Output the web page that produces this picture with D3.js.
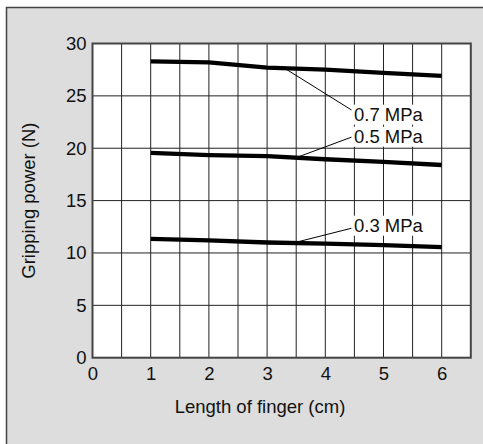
<!DOCTYPE html>
<html>
<head>
<meta charset="utf-8">
<script src="https://cdn.jsdelivr.net/npm/d3@7"></script>
<style>
  html, body { margin: 0; padding: 0; background: #fff; }
  svg { display: block; font-family: "Liberation Sans", Arial, sans-serif; }
</style>
</head>
<body>
<div id="chart"></div>
<script>
// finger length (cm) on x, gripping power (N) on y
let lengths = [1, 2, 3, 4, 5, 6];
let power07 = [28.3, 28.2, 27.7, 27.5, 27.2, 26.9];
let power05 = [19.55, 19.35, 19.25, 18.95, 18.7, 18.4];
let power03 = [11.35, 11.2, 11.0, 10.9, 10.75, 10.55];

let seriesNames = ["0.7 MPa", "0.5 MPa", "0.3 MPa"];
// leader lines: point on curve (x) -> label point (x, y), label baseline (y)
let leaderFromX = [3.3, 3.5, 3.45];
let leaderToX = [4.45, 4.45, 4.45];
let leaderToY = [23.65, 21.06, 12.36];
let labelBaseY = [22.63, 20.53, 12.03];

let xTicks = [0, 1, 2, 3, 4, 5, 6];
let yTicks = [0, 5, 10, 15, 20, 25, 30];

let width = 483, height = 444;
let margin = { top: 43.5, right: 12.2, bottom: 86.3, left: 92.5 };
let fontSize = "18.5px";

let x = d3.scaleLinear().domain([0, 6.5]).range([margin.left, width - margin.right]);
let y = d3.scaleLinear().domain([0, 30]).range([height - margin.bottom, margin.top]);

const svg = d3.select("#chart").append("svg")
  .attr("width", width)
  .attr("height", height);

// grey panel
svg.append("rect")
  .attr("x", 6.5).attr("y", 7.5)
  .attr("width", width + 10).attr("height", height + 10)
  .attr("fill", "#dcdddc")
  .attr("stroke", "#444").attr("stroke-width", 1.5);

// plot area
svg.append("rect")
  .attr("x", x(0)).attr("y", y(30))
  .attr("width", x(6.5) - x(0)).attr("height", y(0) - y(30))
  .attr("fill", "#fff");

// grid
let vLines = d3.range(0.5, 6.5, 0.5);
svg.append("g").selectAll("line").data(vLines).join("line")
  .attr("x1", d => x(d)).attr("x2", d => x(d))
  .attr("y1", y(30)).attr("y2", y(0))
  .attr("stroke", "#222").attr("stroke-width", 1);

svg.append("g").selectAll("line").data(yTicks.slice(1, -1)).join("line")
  .attr("x1", x(0)).attr("x2", x(6.5))
  .attr("y1", d => y(d)).attr("y2", d => y(d))
  .attr("stroke", "#222").attr("stroke-width", 1);

svg.append("rect")
  .attr("x", x(0)).attr("y", y(30))
  .attr("width", x(6.5) - x(0)).attr("height", y(0) - y(30))
  .attr("fill", "none")
  .attr("stroke", "#444").attr("stroke-width", 2);

// axes (labels only)
let axisX = svg.append("g")
  .attr("transform", `translate(0 ${y(0)})`)
  .call(d3.axisBottom(x).tickValues(xTicks).tickFormat(d3.format("d")).tickSize(0).tickPadding(9));
let axisY = svg.append("g")
  .attr("transform", `translate(${x(0)} 0)`)
  .call(d3.axisLeft(y).tickValues(yTicks).tickFormat(d3.format("d")).tickSize(0).tickPadding(6));
[axisX, axisY].forEach(a => {
  a.select(".domain").remove();
  a.selectAll("text")
    .attr("fill", "#111")
    .style("font-size", fontSize)
    .style("font-family", "'Liberation Sans', Arial, sans-serif");
});

// curves
let allSeries = [power07, power05, power03];
let line = d3.line().x((d, i) => x(lengths[i])).y(d => y(d));
svg.append("g").selectAll("path").data(allSeries).join("path")
  .attr("d", d => line(d))
  .attr("fill", "none")
  .attr("stroke", "#000")
  .attr("stroke-width", 4.3);

// leaders + labels (white box behind text hides the grid)
let valueAt = (s, xv) => d3.scaleLinear().domain(lengths).range(s)(xv);
let ann = svg.append("g");
allSeries.forEach((s, i) => {
  let box = ann.append("rect").attr("fill", "#fff");
  let t = ann.append("text")
    .attr("x", x(leaderToX[i]) + 2.5)
    .attr("y", y(labelBaseY[i]))
    .attr("fill", "#111")
    .style("font-size", fontSize)
    .text(seriesNames[i]);
  let bb = t.node().getBBox();
  box.attr("x", bb.x - 1).attr("y", bb.y + 1)
    .attr("width", bb.width + 2).attr("height", bb.height - 1);
  ann.append("line")
    .attr("x1", x(leaderFromX[i])).attr("y1", y(valueAt(s, leaderFromX[i])))
    .attr("x2", x(leaderToX[i])).attr("y2", y(leaderToY[i]))
    .attr("stroke", "#000").attr("stroke-width", 1);
});

// axis titles
svg.append("text")
  .attr("x", 260).attr("y", 413)
  .attr("text-anchor", "middle")
  .attr("fill", "#111")
  .style("font-size", fontSize)
  .text("Length of finger (cm)");

svg.append("text")
  .attr("transform", `translate(28 ${(y(0) + y(30)) / 2}) rotate(-90)`)
  .attr("text-anchor", "middle")
  .attr("dominant-baseline", "central")
  .attr("fill", "#111")
  .style("font-size", fontSize)
  .text("Gripping power (N)");
</script>
</body>
</html>
